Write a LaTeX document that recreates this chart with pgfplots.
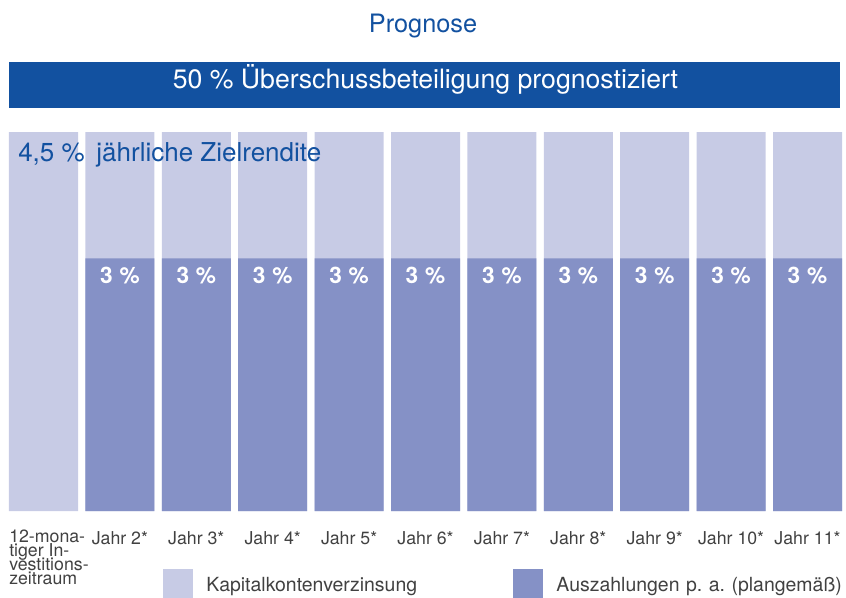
\documentclass[border=0pt]{standalone}
\usepackage{pgfplots}
\pgfplotsset{compat=1.18}
\usepackage{fontspec}
\setmainfont{TeX Gyre Heros}
\frenchspacing
\definecolor{bannerblue}{RGB}{18,81,160}
\definecolor{lightbar}{RGB}{199,203,229}
\definecolor{darkbar}{RGB}{133,145,198}
\definecolor{labelgray}{RGB}{65,65,65}
\newcommand{\tightlines}{\lineskiplimit=-20pt\relax}
\pgfplotsset{sqlegend/.style={legend image code/.code={\fill[##1] (0pt,-11.25pt) rectangle (22.5pt,11.25pt);}}}
\begin{document}
\begin{tikzpicture}
\useasboundingbox (0,0) rectangle (634.5pt,447.75pt);
\fill[bannerblue] (6.75pt,366.75pt) rectangle (630pt,401.25pt);
\node[anchor=base, inner sep=0pt, text=white, font=\fontsize{20pt}{23pt}\selectfont] at (319.1pt,381pt) {50 \% Überschussbeteiligung prognostiziert};
\node[anchor=base, inner sep=0pt, text=bannerblue, font=\fontsize{19pt}{22pt}\selectfont] at (317.25pt,423pt) {Prognose};
\begin{axis}[
  at={(3.975pt,64.5pt)}, anchor=south west,
  scale only axis, width=630.3pt, height=284.25pt,
  ybar, bar width=51.75pt,
  xmin=-0.5, xmax=10.5, ymin=0, ymax=4.5,
  axis line style={draw=none},
  ytick=\empty,
  xtick={1,2,3,4,5,6,7,8,9,10},
  xticklabels={Jahr 2*,Jahr 3*,Jahr 4*,Jahr 5*,Jahr 6*,Jahr 7*,Jahr 8*,Jahr 9*,Jahr 10*,Jahr 11*},
  major tick length=0pt,
  xtick style={draw=none},
  xticklabel style={anchor=base, yshift=-24.75pt, inner sep=0pt, text=labelgray, font=\fontsize{13.3pt}{15pt}\selectfont},
  extra x ticks={0},
  extra x tick labels={12-mona-\\tiger In-\\vestitions-\\zeitraum},
  extra x tick style={xticklabel style={anchor=north west, align=left, xshift=-25.875pt, yshift=10.65pt, font=\fontsize{13.3pt}{10.4pt}\selectfont\tightlines}},
  /pgf/number format/assume math mode=true,
  clip=false,
  legend columns=2,
  legend cell align=left,
  legend style={at={(0.18765,-0.19261)}, anchor=west, draw=none, fill=none, inner sep=0pt, outer sep=0pt,
    font=\fontsize{14.6pt}{18pt}\selectfont, text=labelgray,
    nodes={inner sep=0pt, text width=229.9pt, align=left, text height=10.5pt, text depth=0pt},
    /tikz/every odd column/.append style={column sep=10.1pt}},
]
\addplot[fill=lightbar, draw=none, bar shift=0pt, sqlegend] coordinates {
  (0,4.5) (1,4.5) (2,4.5) (3,4.5) (4,4.5) (5,4.5) (6,4.5) (7,4.5) (8,4.5) (9,4.5) (10,4.5)};
\addlegendentry{Kapitalkontenverzinsung}
\addplot[fill=darkbar, draw=none, bar shift=0pt, sqlegend,
  nodes near coords={\pgfmathprintnumber{\pgfplotspointmeta}\hspace{0.3em}\%},
  every node near coord/.append style={anchor=north, yshift=-6pt, inner sep=0pt, text=white, font=\bfseries\fontsize{17pt}{19pt}\selectfont}] coordinates {
  (1,3) (2,3) (3,3) (4,3) (5,3) (6,3) (7,3) (8,3) (9,3) (10,3)};
\addlegendentry{Auszahlungen p. a. (plangemäß)}
\end{axis}
\node[anchor=base west, inner sep=0pt, text=bannerblue, font=\fontsize{19.5pt}{22pt}\selectfont] at (13.5pt,326.25pt) {4,5 \%\hspace{0.45em}jährliche Zielrendite};
\end{tikzpicture}
\end{document}
